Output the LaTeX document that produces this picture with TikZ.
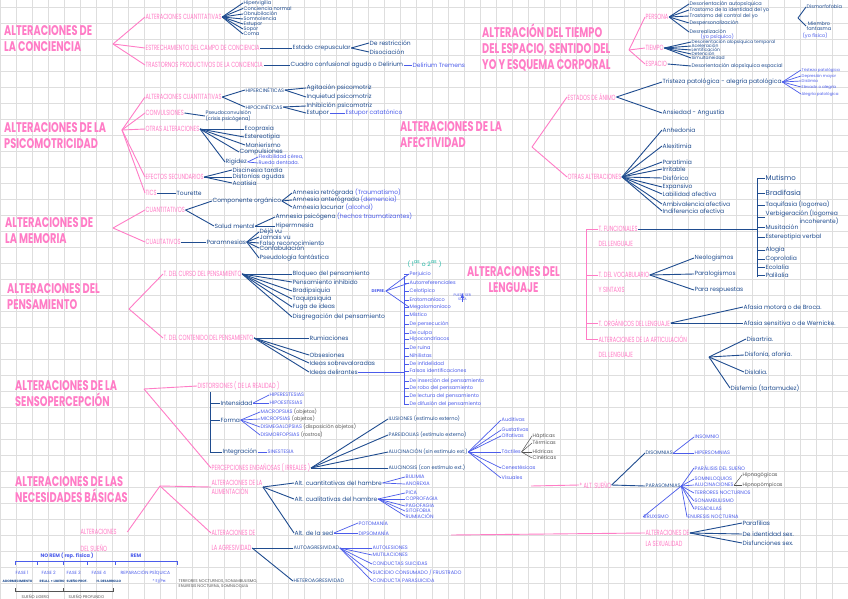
\documentclass[tikz,border=0pt]{standalone}
\usepackage{fontspec}
\setmainfont{Poppins}
\newfontfamily\titfont{Poppins}[FakeStretch=0.7]
\newfontfamily\subfont{Poppins}[FakeStretch=0.68]
\usetikzlibrary{positioning}
\definecolor{rosa}{HTML}{FF7CC6}
\definecolor{marino}{HTML}{1F4C8F}
\definecolor{celeste}{HTML}{4B5CEB}
\definecolor{turquesa}{HTML}{1DB5A2}
\definecolor{gris}{HTML}{555555}
\definecolor{cuadro}{HTML}{DEDEDE}

\begin{document}
\begin{tikzpicture}[x=1pt,y=-1pt,
    tit/.style={anchor=west,align=left,inner sep=0pt,text=rosa,font=\titfont\bfseries\fontsize{14}{16}\selectfont},
    sub/.style={anchor=west,align=left,inner sep=0.5pt,text=rosa,font=\subfont\fontsize{7.5}{9}\selectfont},
    itm/.style={anchor=west,align=left,inner sep=0.5pt,text=marino,font=\fontsize{6}{6.5}\selectfont},
    sitm/.style={itm,font=\fontsize{5}{5.5}\selectfont},
    mcap/.style={itm,font=\fontsize{5}{6}\selectfont},
    bitm/.style={itm,text=celeste},
    bcap/.style={mcap,text=celeste},
    gitm/.style={mcap,text=gris},
    prosa/.style={draw=rosa,line width=0.9pt},
    pmar/.style={draw=marino,line width=0.9pt},
    pcel/.style={draw=celeste,line width=0.7pt},
    pgris/.style={draw=gris,line width=0.5pt}]

\useasboundingbox (0,0) rectangle (848,599);
\fill[white] (0,0) rectangle (848,599);
\foreach \x in {0,16,...,848} \draw[cuadro,line width=0.8pt] (\x,0) -- (\x,599);
\foreach \y in {7,23,...,599} \draw[cuadro,line width=0.8pt] (0,\y) -- (848,\y);

% ---- conciencia
\node[tit] (conc) at (4,39) {ALTERACIONES DE\\LA CONCIENCIA};
\coordinate (conc-v) at (113,44);
\node[sub] (c-cuan) at (145,17) {ALTERACIONES CUANTITATIVAS};
\node[sub] (c-estr) at (145,48) {ESTRECHAMIENTO DEL CAMPO DE CONCIENCIA};
\node[sub] (c-tras) at (145,65) {TRASTORNOS PRODUCTIVOS DE LA CONCIENCIA};
\foreach \nn in {c-cuan,c-estr,c-tras} \draw[prosa] (conc-v) -- (\nn.west);
\foreach \yy/\txt [count=\nn] in {3/Hipervigilia,8.5/Conciencia normal,14/Obnubilación,19/Somnolencia,24/Estupor,29/Sopor,34/Coma}{
    \node[sitm] (cc\nn) at (243,\yy) {\txt};
    \draw[pmar] (c-cuan.east) -- (cc\nn.west);
}
\node[itm] (crep) at (292,48) {Estado crepuscular};
\draw[pmar] (c-estr.east) -- (crep.west);
\node[itm] (restr) at (369,43) {De restricción};
\node[itm] (disoc) at (369,52) {Disociación};
\draw[pmar] (crep.east) -- (restr.west);
\draw[pmar] (crep.east) -- (disoc.west);
\node[itm] (delir) at (290,65) {Cuadro confusional agudo o Delirium};
\draw[pmar] (c-tras.east) -- (delir.west);
\node[bitm] (trem) at (412,65) {Delirium Tremens};
\draw[pcel] (delir.east) -- (trem.west);

% ---- tiempo, espacio, yo
\node[tit] (tiem) at (482,48) {ALTERACIÓN DEL TIEMPO\\DEL ESPACIO, SENTIDO DEL\\YO Y ESQUEMA CORPORAL};
\coordinate (tiem-v) at (629,50);
\node[sub] (pers) at (645,17) {PERSONA};
\node[sub] (tpo) at (645,48) {TIEMPO};
\node[sub] (esp) at (645,64) {ESPACIO};
\foreach \nn in {pers,tpo,esp} \draw[prosa] (tiem-v) -- (\nn.west);
\foreach \yy/\txt [count=\nn] in {4/Desorientación autopsíquica,10/Trastorno de la identidad del yo,16/Trastorno del control del yo,23/Despersonalización,32/Desrealización}{
    \node[sitm] (pe\nn) at (689,\yy) {\txt};
    \draw[pmar] (pers.east) -- (pe\nn.west);
}
\node[bitm,font=\fontsize{5}{6}\selectfont] (psiq) at (700,37) {(yo psíquico)};
\coordinate (fis-v) at (798,18);
\node[sitm] (dism) at (806,7) {Dismorfofobia};
\node[sitm,align=center] (fant) at (806,26) {Miembro\\fantasma};
\node[bitm,font=\fontsize{5}{6}\selectfont] (fisi) at (802,36) {(yo físico)};
\draw[pmar] (fis-v) -- (dism.west);
\draw[pmar] (fis-v) -- (fant.west);
\foreach \yy/\txt [count=\nn] in {42/Desorientación alopsíquica temporal,46/Aceleración,50/Lentificación,54/Detención,58/Simultaneidad}{
    \node[itm,font=\fontsize{4.5}{5}\selectfont] (tp\nn) at (691,\yy) {\txt};
    \draw[pmar] (tpo.east) -- (tp\nn.west);
}
\node[sitm] (espa) at (691,66) {Desorientación alopsíquica espacial};
\draw[pmar] (esp.east) -- (espa.west);

% ---- psicomotricidad
\node[tit] (psm) at (4,136) {ALTERACIONES DE LA\\PSICOMOTRICIDAD};
\coordinate (psm-v) at (122,130);
\node[sub] (p-cuan) at (145,97) {ALTERACIONES CUANTITATIVAS};
\node[sub] (p-conv) at (145,113) {CONVULSIONES};
\node[sub] (p-otr) at (145,129) {OTRAS ALTERACIONES};
\node[sub] (p-efe) at (145,177) {EFECTOS SECUNDARIOS};
\node[sub] (p-tic) at (145,193) {TICS};
\foreach \nn in {p-cuan,p-conv,p-otr,p-efe,p-tic} \draw[prosa] (psm-v) -- (\nn.west);
\node[mcap] (hiper) at (245,90) {HIPERCINÉTICAS};
\node[mcap] (hipo) at (245,107) {HIPOCINÉTICAS};
\draw[pmar] (p-cuan.east) -- (hiper.west);
\draw[pmar] (p-cuan.east) -- (hipo.west);
\node[itm] (agit) at (306,88) {Agitación psicomotriz};
\node[itm] (inqu) at (306,97) {Inquietud psicomotriz};
\node[itm] (inhi) at (306,106) {Inhibición psicomotriz};
\node[itm] (estu) at (306,113) {Estupor};
\node[bitm] (cata) at (345,113) {Estupor catatónico};
\draw[pmar] (hiper.east) -- (agit.west);
\draw[pmar] (hiper.east) -- (inqu.west);
\draw[pmar] (hipo.east) -- (inhi.west);
\draw[pmar] (hipo.east) -- (estu.west);
\draw[pcel] (estu.east) -- (cata.west);
\node[sitm] (pseu) at (205,116) {Pseudoconvulsión\\(crisis psicógena)};
\draw[pmar] (p-conv.east) -- (pseu.west);
\foreach \xx/\yy/\txt [count=\nn] in {244/129/Ecopraxia,244/137/Estereotipia,245/145/Manierismo,239/152/Compulsiones,225/162/Rigidez}{
    \node[itm] (ot\nn) at (\xx,\yy) {\txt};
    \draw[pmar] (p-otr.east) -- (ot\nn.west);
}
\node[bitm,font=\fontsize{5}{6}\selectfont] (flex) at (258,157) {Flexibilidad cérea,};
\node[bitm,font=\fontsize{5}{6}\selectfont] (rued) at (258,163) {Rueda dentada.};
\draw[pcel] (ot5.east) -- (flex.west);
\draw[pcel] (ot5.east) -- (rued.west);
\foreach \yy/\txt [count=\nn] in {170/Discinesia tardía,177/Distonías agudas,183/Acatisia}{
    \node[itm] (ef\nn) at (232,\yy) {\txt};
    \draw[pmar] (p-efe.east) -- (ef\nn.west);
}
\node[itm] (tour) at (176,193) {Tourette};
\draw[pmar] (p-tic.east) -- (tour.west);

% ---- afectividad
\node[tit] (afe) at (400,135) {ALTERACIONES DE LA\\AFECTIVIDAD};
\coordinate (afe-v) at (532,147);
\node[sub] (a-est) at (567,97) {ESTADOS DE ÁNIMO};
\node[sub] (a-otr) at (567,177) {OTRAS ALTERACIONES};
\draw[prosa] (afe-v) -- (a-est.west);
\draw[prosa] (afe-v) -- (a-otr.west);
\node[itm] (trist) at (662,82) {Tristeza patológica - alegría patológica};
\node[itm] (ansi) at (662,113) {Ansiedad - Angustia};
\draw[pmar] (a-est.east) -- (trist.west);
\draw[pmar] (a-est.east) -- (ansi.west);
\foreach \yy/\txt [count=\nn] in {70/Tristeza patológica,76/Depresión mayor,81/Distimia,87/Elevado o alegría,94/Alegría patológica}{
    \node[bitm,font=\fontsize{4}{5}\selectfont] (tr\nn) at (801,\yy) {\txt};
    \draw[pcel] (trist.east) -- (tr\nn.west);
}
\foreach \yy/\txt [count=\nn] in {130/Anhedonia,146/Alexitimia,162/Paratimia,169/Irritable,178/Disfórico,187/Expansivo,194/Labilidad afectiva,204/Ambivalencia afectiva,211/Indiferencia afectiva}{
    \node[itm] (ao\nn) at (662,\yy) {\txt};
    \draw[pmar] (a-otr.east) -- (ao\nn.west);
}

% ---- memoria
\node[tit] (mem) at (5,231) {ALTERACIONES DE\\LA MEMORIA};
\coordinate (mem-v) at (113,228);
\node[sub] (m-cuan) at (145,210) {CUANTITATIVOS};
\node[sub] (m-cual) at (145,242) {CUALITATIVOS};
\draw[prosa] (mem-v) -- (m-cuan.west);
\draw[prosa] (mem-v) -- (m-cual.west);
\node[itm] (org) at (212,201) {Componente orgánico};
\node[itm] (salu) at (214,226) {Salud mental};
\draw[pmar] (m-cuan.east) -- (org.west);
\draw[pmar] (m-cuan.east) -- (salu.west);
\foreach \yy/\txt [count=\nn] in {193/{Amnesia retrógrada \textcolor{celeste}{(Traumatismo)}},200/{Amnesia anterógrada \textcolor{celeste}{(demencia)}},207/{Amnesia lacunar \textcolor{celeste}{(alcohol)}}}{
    \node[itm] (am\nn) at (292,\yy) {\txt};
    \draw[pmar] (org.east) -- (am\nn.west);
}
\node[itm] (psic) at (275,217) {Amnesia psicógena \textcolor{celeste}{(hechos traumatizantes)}};
\node[itm] (hipm) at (275,226) {Hipermnesia};
\draw[pmar] (salu.east) -- (psic.west);
\draw[pmar] (salu.east) -- (hipm.west);
\node[itm] (parm) at (206,242) {Paramnesias};
\draw[pmar] (m-cual.east) -- (parm.west);
\foreach \yy/\txt [count=\nn] in {232/Déjà vu,237/Jamais vu,243/Falso reconocimiento,248/Confabulación,258/Pseudología fantástica}{
    \node[itm] (pa\nn) at (259,\yy) {\txt};
    \draw[pmar] (parm.east) -- (pa\nn.west);
}

% ---- pensamiento
\node[tit] (pen) at (7,297) {ALTERACIONES DEL\\PENSAMIENTO};
\coordinate (pen-v) at (129,309);
\node[sub] (pe-cur) at (163,274) {T. DEL CURSO DEL PENSAMIENTO};
\node[sub] (pe-con) at (163,338) {T. DEL CONTENIDO DEL PENSAMIENTO};
\draw[prosa] (pen-v) -- (pe-cur.west);
\draw[prosa] (pen-v) -- (pe-con.west);
\foreach \yy/\txt [count=\nn] in {274/Bloqueo del pensamiento,282/Pensamiento inhibido,291/Bradipsiquia,299/Taquipsiquia,307/Fuga de ideas,317/Disgregación del pensamiento}{
    \node[itm] (cu\nn) at (292,\yy) {\txt};
    \draw[pmar] (pe-cur.east) -- (cu\nn.west);
}
\foreach \yy/\txt [count=\nn] in {338/Rumiaciones,355/Obsesiones,363/Ideas sobrevaloradas,372/Ideas delirantes}{
    \node[itm] (co\nn) at (309,\yy) {\txt};
    \draw[pmar] (pe-con.east) -- (co\nn.west);
}
\coordinate (del-top) at (404,276);
\coordinate (del-bot) at (404,405);
\draw[pcel] (del-top) -- (del-bot);
\draw[pcel] (co4.east) -- (co4.east -| del-top);
\node[text=turquesa,anchor=west,font=\fontsize{6}{7}\selectfont] (grado) at (404,264) {( 1\textsuperscript{as} o 2\textsuperscript{as} )};
\foreach \yy/\txt [count=\nn] in {274/Perjuicio,283/Autorreferenciales,291/Celotípico,300/Erotomaníaco,307/Megalomaníaco,315/Místico,324/De persecución,333/De culpa,339/Hipocondríacos,348/De ruina,356/Nihilistas,364/De infidelidad,371/Falsas identificaciones,381/De inserción del pensamiento,388/De robo del pensamiento,396/De lectura del pensamiento,404/De difusión del pensamiento}{
    \node[bitm,font=\fontsize{5}{6}\selectfont] (de\nn) at (409,\yy) {\txt};
    \draw[pcel] (de\nn.west) -- ++(-5,0);
}
\node[bcap,font=\bfseries\fontsize{4}{5}\selectfont] (tipo) at (371,291) {DEPRE.};
\foreach \nn in {1,2,5} \draw[pcel] (tipo.east) -- (de\nn.west);
\node[bcap,align=center,font=\fontsize{3.5}{4}\selectfont] (sola) at (453,297) {PUEDE SER\\SOLA};
\draw[pcel,-latex] ([yshift=-9]sola.north) -- (sola.north);

% ---- lenguaje
\node[tit,align=center] (len) at (467,280) {ALTERACIONES DEL\\LENGUAJE};
\node[sub] (lf1) at (598,229) {T. FUNCIONALES};
\node[sub] (lf2) at (598,244) {DEL LENGUAJE};
\node[sub] (lv1) at (598,275) {T. DEL VOCABULARIO};
\node[sub] (lv2) at (598,290) {Y SINTAXIS};
\node[sub] (lo) at (598,323) {T. ORGÁNICOS DEL LENGUAJE};
\node[sub] (la1) at (598,339) {ALTERACIONES DE LA ARTICULACIÓN};
\node[sub] (la2) at (598,355) {DEL LENGUAJE};
\draw[prosa] (lf1.west) -- ++(-12,0) |- (la1.west);
\draw[prosa] (lv1.west) -- ++(-12,0);
\draw[prosa] (lo.west) -- ++(-12,0);
\coordinate (fb-top) at (757,178);
\coordinate (fb-bot) at (757,277);
\draw[pmar] (fb-top) -- (fb-bot);
\draw[pmar] (lf1.east) -- (lf1.east -| fb-top);
\foreach \yy/\txt [count=\nn] in {178/{\fontsize{7}{8}\selectfont Mutismo},193/{\fontsize{7}{8}\selectfont Bradifasia},205/Taquifasia (logorrea),217/{Verbigeración (logorrea\\\hspace*{34pt}incoherente)},227/Musitación,237/Estereotipia verbal,250/Alogia,259/Coprolalia,267/Ecolalia,275/Palilalia}{
    \node[itm] (fu\nn) at (765,\yy) {\txt};
    \draw[pmar] (fu\nn.west |- 0,\yy) -- ++(-8,0);
}
\foreach \yy/\txt [count=\nn] in {258/Neologismos,274/Paralogismos,290/Para respuestas}{
    \node[itm] (vo\nn) at (694,\yy) {\txt};
    \draw[pmar] (lv1.east) -- (vo\nn.west);
}
\node[itm] (broca) at (743,307) {Afasia motora o de Broca.};
\node[itm] (wern) at (743,323) {Afasia sensitiva o de Wernicke.};
\draw[pmar] (lo.east) -- (broca.west);
\draw[pmar] (lo.east) -- (wern.west);
\coordinate (art-v) at (709,357);
\foreach \xx/\yy/\txt [count=\nn] in {746/339/Disartria.,744/355/{Disfonía, afonía.},744/372/Dislalia.,730/388/Disfemia (tartamudez)}{
    \node[itm] (ar\nn) at (\xx,\yy) {\txt};
    \draw[pmar] (art-v) -- (ar\nn.west);
}

% ---- sensopercepcion
\node[tit] (sen) at (15,394) {ALTERACIONES DE LA\\SENSOPERCEPCIÓN};
\coordinate (sen-v) at (144,389);
\node[sub] (s-dis) at (197,386) {DISTORSIONES ( DE LA REALIDAD )};
\node[sub] (s-per) at (211,468) {PERCEPCIONES ENGAÑOSAS ( IRREALES )};
\draw[prosa] (sen-v) -- (s-dis.west);
\draw[prosa] (sen-v) -- (s-per.west);
\coordinate (dis-top) at (210,392);
\node[itm] (inten) at (220,403) {Intensidad};
\node[itm] (forma) at (220,420) {Forma};
\node[itm] (integ) at (222,452) {Integración};
\draw[pmar] (dis-top) |- (integ.west);
\draw[pmar] (dis-top) |- (inten.west);
\draw[pmar] (dis-top) |- (forma.west);
\node[bcap] (hipe) at (269,395) {HIPERESTESIAS};
\node[bcap] (hipoe) at (269,403) {HIPOESTESIAS};
\draw[pcel] (inten.east) -- (hipe.west);
\draw[pcel] (inten.east) -- (hipoe.west);
\foreach \yy/\txt [count=\nn] in {412/{MACROPSIAS \textcolor{gris}{(objetos)}},419/{MICROPSIAS \textcolor{gris}{(objetos)}},427/{DISMEGALOPSIAS \textcolor{gris}{(disposición objetos)}},435/{DISMORFOPSIAS \textcolor{gris}{(rostros)}}}{
    \node[bcap] (fo\nn) at (260,\yy) {\txt};
    \draw[pcel] (forma.east) -- (fo\nn.west);
}
\node[bcap] (sine) at (267,452) {SINESTESIA};
\draw[pcel] (integ.east) -- (sine.west);
\foreach \yy/\txt [count=\nn] in {419/ILUSIONES (estímulo externo),435/PAREIDOLIAS (estímulo externo),452/ALUCINACIÓN (sin estímulo ext.),468/ALUCINOSIS (con estímulo ext.)}{
    \node[mcap] (en\nn) at (388,\yy) {\txt};
    \draw[pmar] (s-per.east) -- (en\nn.west);
}
\foreach \yy/\txt [count=\nn] in {420/Auditivas,430/Gustativas,436/Olfativas,452/Táctiles,468/Cenestésicas,478/Visuales}{
    \node[bitm,font=\fontsize{5}{6}\selectfont] (al\nn) at (501,\yy) {\txt};
    \draw[pcel] (en3.east) -- (al\nn.west);
}
\foreach \yy/\txt [count=\nn] in {436/Hápticas,443/Térmicas,452/Hídricas,458/Cinéticas}{
    \node[gitm] (ta\nn) at (532,\yy) {\txt};
    \draw[pgris] (al4.east) -- (ta\nn.west);
}

% ---- necesidades basicas
\node[tit] (nec) at (15,490) {ALTERACIONES DE LAS\\NECESIDADES BÁSICAS};
\coordinate (nec-v) at (160,486);
\node[sub] (n-ali) at (211,487) {ALTERACIONES DE LA\\ALIMENTACIÓN};
\node[sub] (n-agr1) at (211,533) {ALTERACIONES DE};
\node[sub] (n-agr2) at (211,548) {LA AGRESIVIDAD};
\node[sub] (n-sue1) at (80,532) {ALTERACIONES};
\node[sub] (n-sue2) at (80,548) {DEL SUEÑO};
\draw[prosa] (nec-v) -- (n-ali.west);
\draw[prosa] (nec-v) -- (n-agr1.west);
\draw[prosa] (nec-v) -- ([xshift=10]n-sue1.east);
\foreach \yy/\txt [count=\nn] in {483/Alt. cuantitativas del hambre,499/Alt. cualitativas del hambre,533/Alt. de la sed}{
    \node[itm] (ha\nn) at (294,\yy) {\txt};
    \draw[pmar] (n-ali.east) -- (ha\nn.west);
}
\foreach \yy/\txt [count=\nn] in {477/BULIMIA,484/ANOREXIA}{
    \node[bcap] (bu\nn) at (405,\yy) {\txt};
    \draw[pcel] (ha1.east) -- (bu\nn.west);
}
\foreach \yy/\txt [count=\nn] in {493/PICA,499/COPROFAGIA,506/PAGOFAGIA,511/SITOFOBIA,516/RUMIACIÓN}{
    \node[bcap] (pi\nn) at (405,\yy) {\txt};
    \draw[pcel] (ha2.east) -- (pi\nn.west);
}
\node[bcap] (poto) at (358,523) {POTOMANÍA};
\node[bcap] (dips) at (358,533) {DIPSOMANÍA};
\draw[pcel] (ha3.east) -- (poto.west);
\draw[pcel] (ha3.east) -- (dips.west);
\node[mcap] (auto) at (293,548) {AUTOAGRESIVIDAD};
\node[mcap] (hete) at (293,581) {HETEROAGRESIVIDAD};
\draw[pmar] (n-agr2.east) -- (auto.west);
\draw[pmar] (n-agr2.east) -- (hete.west);
\foreach \yy/\txt [count=\nn] in {548/AUTOLESIONES,555/MUTILACIONES,564/CONDUCTAS SUICIDAS,573/{SUICIDIO CONSUMADO / FRUSTRADO},581/CONDUCTA PARASUICIDA}{
    \node[bcap] (au\nn) at (372,\yy) {\txt};
    \draw[pcel] (auto.east) -- (au\nn.west);
}

% ---- sueño
\node[sub] (asue) at (579,485) {* ALT. SUEÑO};
\coordinate (asue-a) at (531,486);
\draw[prosa] (asue-a) -- (asue.west);
\node[mcap] (disom) at (645,453) {DISOMNIAS};
\node[mcap] (paras) at (645,486) {PARASOMNIAS};
\draw[pmar] (asue.east) -- (disom.west);
\draw[pmar] (asue.east) -- (paras.west);
\node[bcap] (inso) at (694,437) {INSOMNIO};
\node[bcap] (hips) at (694,453) {HIPERSOMNIAS};
\draw[pcel] (disom.east) -- (inso.west);
\draw[pcel] (disom.east) -- (hips.west);
\foreach \xx/\yy/\txt [count=\nn] in {694/468/PARÁLISIS DEL SUEÑO,694/479/SOMNILOQUIOS,694/485/ALUCINACIONES,694/493/TERRORES NOCTURNOS,694/501/SONAMBULISMO,694/509/PESADILLAS,687/517/ENURESIS NOCTURNA,643/517/BRUXISMO}{
    \node[bcap] (ps\nn) at (\xx,\yy) {\txt};
    \draw[pcel] (paras.east) -- (ps\nn.west);
}
\node[gitm] (hipna) at (742,475) {Hipnagógicas};
\node[gitm] (hipno) at (742,485) {Hipnopómpicas};
\draw[pgris] (ps3.east) -- (hipna.west);
\draw[pgris] (ps3.east) -- (hipno.west);

% ---- sexualidad
\node[sub] (sex1) at (645,533) {ALTERACIONES DE};
\node[sub] (sex2) at (645,544) {LA SEXUALIDAD};
\coordinate (sex-a) at (451,535);
\draw[prosa] (sex-a) -- (sex1.west);
\foreach \yy/\txt [count=\nn] in {523/Parafilias,534/De identidad sex.,543/Disfunciones sex.}{
    \node[itm] (sx\nn) at (742,\yy) {\txt};
    \draw[pmar] (sex1.east) -- (sx\nn.west);
}

% ---- fases del sueño
\node[bcap,font=\bfseries\fontsize{5}{6}\selectfont] (norem) at (40,556) {NO REM ( rep. física )};
\node[bcap,font=\bfseries\fontsize{5}{6}\selectfont] (rem) at (130,556) {REM};
\draw[pcel] (15,565) -- (15,561) -- (177,561) -- (177,565);
\foreach \xx in {37,63,87,115} \draw[pcel] (\xx,561) -- (\xx,565);
\foreach \xx/\txt in {15/FASE 1,41/FASE 2,66/FASE 3,91/FASE 4,120/REPARACIÓN PSÍQUICA}
    \node[bcap,font=\fontsize{4.5}{5}\selectfont] at (\xx,573) {\txt};
\foreach \xx/\txt in {2/ADORMECIMIENTO,39/RELAJ. + LIGERO,66/SUEÑO PROF.,96/H. DESARROLLO}
    \node[mcap,font=\bfseries\fontsize{3.2}{4}\selectfont] at (\xx,581) {\txt};
\draw[pgris] (15,588) -- (15,591) -- (113,591) -- (113,588);
\draw[pgris] (63,591) -- (63,588);
\node[gitm,font=\fontsize{4}{5}\selectfont] (lig) at (21,597) {SUEÑO LIGERO};
\node[gitm,font=\fontsize{4}{5}\selectfont] (prof) at (68,597) {SUEÑO PROFUNDO};
\node[bcap,font=\fontsize{4}{5}\selectfont] (ejpe) at (152,581) {* Ej/Pe:};
\node[gitm,font=\fontsize{4}{5}\selectfont] (ejem) at (178,584) {TERRORES NOCTURNOS, SONAMBULISMO,\\ENURESIS NOCTURNA, SOMNILOQUIA};
\end{tikzpicture}
\end{document}
